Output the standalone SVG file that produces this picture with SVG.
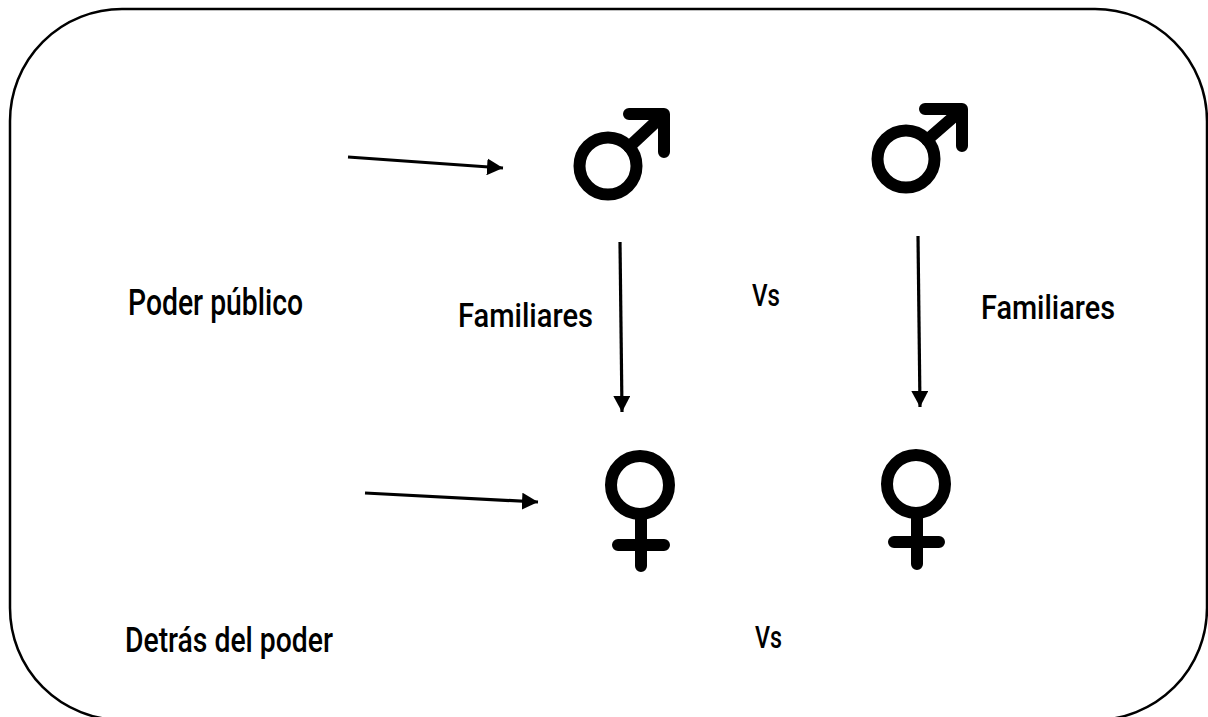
<svg xmlns="http://www.w3.org/2000/svg" width="1208" height="717" viewBox="0 0 1208 717">
<style>
.lbl{font-family:Roboto,"Liberation Sans",Arial,sans-serif;font-weight:500;font-size:34px;fill:#000}
.sym{fill:none;stroke:#000;stroke-width:12;stroke-linecap:round;stroke-linejoin:round}
.conn{stroke:#000;stroke-width:3.2;fill:none}
</style>
<defs>
<marker id="ah" viewBox="0 0 16 17" refX="16" refY="8.5" markerWidth="16" markerHeight="17" markerUnits="userSpaceOnUse" orient="auto">
<path d="M0,0 L16,8.5 L0,17 Z" fill="#000"/>
</marker>
</defs>
<rect x="10" y="9" width="1197" height="711" rx="112" ry="112" fill="#fff" stroke="#000" stroke-width="2.5"/>
<g id="connectors">
<line class="conn" x1="348" y1="157" x2="503" y2="168" marker-end="url(#ah)"/>
<line class="conn" x1="365" y1="493" x2="538" y2="502" marker-end="url(#ah)"/>
<line class="conn" x1="620" y1="242" x2="622" y2="412" marker-end="url(#ah)"/>
<line class="conn" x1="918" y1="236" x2="920" y2="407" marker-end="url(#ah)"/>
</g>
<g id="male1">
<circle class="sym" cx="608" cy="166" r="28.5"/>
<path class="sym" d="M629,147 L660,118 M629,114 L664,114 L664,152"/>
</g>
<g id="male2">
<circle class="sym" cx="906" cy="159" r="28.5"/>
<path class="sym" d="M927,140 L958,113 M925,109 L962,109 L962,146"/>
</g>
<g id="female1">
<circle class="sym" cx="640" cy="485" r="29"/>
<path class="sym" d="M641,514 L641,566 M618,545 L664,545"/>
</g>
<g id="female2">
<circle class="sym" cx="916" cy="484" r="29"/>
<path class="sym" d="M917,513 L917,564 M894,542 L939,542"/>
</g>
<g id="poder-publico"><text class="lbl" x="128" y="315" textLength="175" lengthAdjust="spacingAndGlyphs" style="font-size:37px">Poder público</text></g>
<g id="familiares1"><text class="lbl" x="458" y="327" textLength="135" lengthAdjust="spacingAndGlyphs">Familiares</text></g>
<g id="vs1"><text class="lbl" x="752" y="306" textLength="28" lengthAdjust="spacingAndGlyphs" style="font-size:32px">Vs</text></g>
<g id="familiares2"><text class="lbl" x="981" y="319" textLength="134" lengthAdjust="spacingAndGlyphs">Familiares</text></g>
<g id="detras"><text class="lbl" x="125" y="652" textLength="208" lengthAdjust="spacingAndGlyphs" style="font-size:35px">Detrás del poder</text></g>
<g id="vs2"><text class="lbl" x="755" y="648" textLength="27" lengthAdjust="spacingAndGlyphs" style="font-size:31px">Vs</text></g>
</svg>
